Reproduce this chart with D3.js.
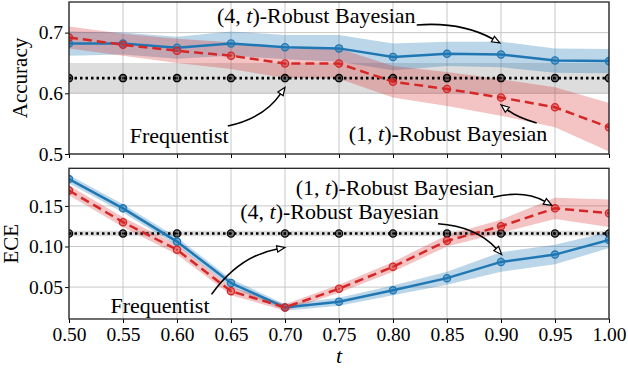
<!DOCTYPE html>
<html>
<head>
<meta charset="utf-8">
<script src="https://cdn.jsdelivr.net/npm/d3@7"></script>
<style>
  body { margin: 0; background: #fff; }
  svg text { font-family: "Liberation Serif", "DejaVu Serif", serif; fill: #000; }
</style>
</head>
<body>
<div id="chart-container"></div>
<script>
const ts = [0.50, 0.55, 0.60, 0.65, 0.70, 0.75, 0.80, 0.85, 0.90, 0.95, 1.00];

// accuracy (top panel)
const accRobust4    = [0.682, 0.682, 0.675, 0.682, 0.676, 0.674, 0.660, 0.665, 0.664, 0.654, 0.653];
const accRobust4Std = [0.020, 0.018, 0.018, 0.020, 0.020, 0.022, 0.022, 0.020, 0.021, 0.020, 0.020];
const accRobust1    = [0.692, 0.680, 0.670, 0.662, 0.649, 0.649, 0.619, 0.607, 0.593, 0.577, 0.544];
const accRobust1Std = [0.018, 0.018, 0.020, 0.022, 0.024, 0.025, 0.026, 0.028, 0.030, 0.033, 0.040];
const accFreq       = [0.625, 0.625, 0.625, 0.625, 0.625, 0.625, 0.625, 0.625, 0.625, 0.625, 0.625];
const accFreqStd    = [0.025, 0.025, 0.025, 0.025, 0.025, 0.025, 0.025, 0.025, 0.025, 0.025, 0.025];

// ECE (bottom panel)
const eceRobust4    = [0.183, 0.147, 0.106, 0.055, 0.025, 0.032, 0.046, 0.061, 0.081, 0.090, 0.108];
const eceRobust4Std = [0.005, 0.005, 0.005, 0.005, 0.004, 0.005, 0.006, 0.008, 0.012, 0.012, 0.010];
const eceRobust1    = [0.169, 0.130, 0.096, 0.045, 0.025, 0.048, 0.075, 0.107, 0.125, 0.147, 0.141];
const eceRobust1Std = [0.006, 0.006, 0.006, 0.005, 0.004, 0.005, 0.006, 0.007, 0.008, 0.013, 0.017];
const eceFreq       = [0.116, 0.116, 0.116, 0.116, 0.116, 0.116, 0.116, 0.116, 0.116, 0.116, 0.116];
const eceFreqStd    = [0.0035, 0.0035, 0.0035, 0.0035, 0.0035, 0.0035, 0.0035, 0.0035, 0.0035, 0.0035, 0.0035];

const xTicks = [0.50, 0.55, 0.60, 0.65, 0.70, 0.75, 0.80, 0.85, 0.90, 0.95, 1.00];
const accTicks = [0.5, 0.6, 0.7];
const eceTicks = [0.05, 0.10, 0.15];

const blue = "#1f77b4", red = "#d62728";

const width = 628, height = 368;
const margin = { left: 69, right: 19 };

const svg = d3.select("#chart-container").append("svg")
  .attr("width", width)
  .attr("height", height);

const x = d3.scaleLinear().domain([0.5, 1.0]).range([margin.left, width - margin.right]);

function drawPanel(cfg) {
  let y = d3.scaleLinear().domain(cfg.domain).range([cfg.bottom, cfg.top]);
  let g = svg.append("g");

  // grid
  g.append("g").selectAll("line").data(xTicks).enter().append("line")
    .attr("x1", d => x(d)).attr("x2", d => x(d))
    .attr("y1", cfg.top).attr("y2", cfg.bottom)
    .attr("stroke", "#c8c8c8").attr("stroke-width", 1);
  g.append("g").selectAll("line").data(cfg.yTicks).enter().append("line")
    .attr("x1", x.range()[0]).attr("x2", x.range()[1])
    .attr("y1", d => y(d)).attr("y2", d => y(d))
    .attr("stroke", "#c8c8c8").attr("stroke-width", 1);

  let band = (m, s) => d3.area()
    .x((d, i) => x(ts[i]))
    .y0((d, i) => y(m[i] - s[i]))
    .y1((d, i) => y(m[i] + s[i]));

  let clipId = "clip-" + cfg.name;
  svg.append("clipPath").attr("id", clipId).append("rect")
    .attr("x", x.range()[0]).attr("y", cfg.top)
    .attr("width", x.range()[1] - x.range()[0]).attr("height", cfg.bottom - cfg.top);

  let plot = g.append("g").attr("clip-path", "url(#" + clipId + ")");

  plot.append("path").datum(ts).attr("d", band(cfg.freq, cfg.freqStd))
    .attr("fill", "#808080").attr("fill-opacity", 0.27);
  plot.append("path").datum(ts).attr("d", band(cfg.r4, cfg.r4Std))
    .attr("fill", blue).attr("fill-opacity", 0.3);
  plot.append("path").datum(ts).attr("d", band(cfg.r1, cfg.r1Std))
    .attr("fill", red).attr("fill-opacity", 0.28);

  let series = [
    { v: cfg.freq, color: "#000", dash: "2.5,3", w: 2.6 },
    { v: cfg.r4, color: blue, dash: null, w: 2.5 },
    { v: cfg.r1, color: red, dash: "9,5", w: 2.5 }
  ];
  series.forEach(s => {
    let line = d3.line().x((d, i) => x(ts[i])).y(d => y(d));
    plot.append("path").datum(s.v).attr("d", line)
      .attr("fill", "none").attr("stroke", s.color)
      .attr("stroke-width", s.w).attr("stroke-dasharray", s.dash);
    plot.append("g").selectAll("circle").data(s.v).enter().append("circle")
      .attr("cx", (d, i) => x(ts[i])).attr("cy", d => y(d)).attr("r", 3.6)
      .attr("fill", s.color).attr("fill-opacity", 0.45)
      .attr("stroke", s.color).attr("stroke-width", 1.3);
    plot.append("g").selectAll("circle").data(s.v).enter().append("circle")
      .attr("cx", (d, i) => x(ts[i])).attr("cy", d => y(d)).attr("r", 0.9)
      .attr("fill", s.color);
  });

  // axes
  let yAxis = d3.axisLeft(y).tickValues(cfg.yTicks).tickSize(4).tickPadding(2)
    .tickFormat(d3.format(cfg.fmt));
  let xAxis = d3.axisBottom(x).tickValues(xTicks).tickSize(4).tickPadding(4)
    .tickFormat(cfg.showX ? d3.format(".2f") : "");

  let ya = g.append("g").attr("transform", "translate(" + x.range()[0] + ",0)").call(yAxis);
  let xa = g.append("g").attr("transform", "translate(0," + cfg.bottom + ")").call(xAxis);
  [ya, xa].forEach(a => {
    a.select(".domain").remove();
    a.selectAll("line").attr("stroke", "#000").attr("stroke-width", 1);
    a.selectAll("text").style("font-size", "19.5px").attr("fill", "#000")
      .style("font-family", "'Liberation Serif', serif");
  });

  g.append("rect")
    .attr("x", x.range()[0]).attr("y", cfg.top)
    .attr("width", x.range()[1] - x.range()[0]).attr("height", cfg.bottom - cfg.top)
    .attr("fill", "none").attr("stroke", "#222").attr("stroke-width", 1.3);

  g.append("text")
    .attr("transform", "translate(" + cfg.labelX + "," + (cfg.top + cfg.bottom) / 2 + ") rotate(-90)")
    .attr("text-anchor", "middle").attr("dy", "0.35em")
    .style("font-size", "21px").text(cfg.label);

  cfg.notes.forEach(n => annotate(n, y));
}

function annotate(n, y) {
  let t = svg.append("text")
    .attr("x", x(n.tx)).attr("y", y(n.ty))
    .attr("text-anchor", "middle").attr("dy", "0.35em")
    .style("font-size", "22px");
  if (n.k) {
    t.append("tspan").text("(" + n.k + ", ");
    t.append("tspan").style("font-style", "italic").text("t");
    t.append("tspan").text(")-Robust Bayesian");
  } else {
    t.text(n.text);
  }

  let x1 = x(n.from[0]), y1 = y(n.from[1]);
  let x2 = x(n.to[0]), y2 = y(n.to[1]);
  let dx = x2 - x1, dy = y2 - y1;
  let cx = (x1 + x2) / 2 - n.rad * dy, cy = (y1 + y2) / 2 + n.rad * dx;

  // arrowhead direction from control point to tip
  let ang = Math.atan2(y2 - cy, x2 - cx);
  let len = 8, hw = 3.2;
  let bx = x2 - len * Math.cos(ang), by = y2 - len * Math.sin(ang);

  let p = d3.path();
  p.moveTo(x1, y1);
  p.quadraticCurveTo(cx, cy, bx, by);
  svg.append("path").attr("d", p.toString())
    .attr("fill", "none").attr("stroke", "#000").attr("stroke-width", 1.6);

  let px = -Math.sin(ang), py = Math.cos(ang);
  svg.append("path")
    .attr("d", "M" + x2 + "," + y2 +
      "L" + (bx + hw * px) + "," + (by + hw * py) +
      "L" + (bx - hw * px) + "," + (by - hw * py) + "Z")
    .attr("fill", "#fff").attr("stroke", "#000").attr("stroke-width", 1.2);
}

drawPanel({
  name: "acc", top: 2, bottom: 154, domain: [0.5, 0.7504],
  yTicks: accTicks, fmt: ".1f", showX: false, label: "Accuracy", labelX: 20,
  r4: accRobust4, r4Std: accRobust4Std, r1: accRobust1, r1Std: accRobust1Std,
  freq: accFreq, freqStd: accFreqStd,
  notes: [
    { k: 4, tx: 0.729, ty: 0.729, from: [0.822, 0.7125], to: [0.899, 0.683], rad: -0.15 },
    { text: "Frequentist", tx: 0.602, ty: 0.53, from: [0.647, 0.546], to: [0.700, 0.610], rad: 0.2 },
    { k: 1, tx: 0.851, ty: 0.534, from: [0.933, 0.551], to: [0.900, 0.581], rad: -0.1 }
  ]
});

drawPanel({
  name: "ece", top: 168.3, bottom: 319, domain: [0.0107, 0.1963],
  yTicks: eceTicks, fmt: ".2f", showX: true, label: "ECE", labelX: 11,
  r4: eceRobust4, r4Std: eceRobust4Std, r1: eceRobust1, r1Std: eceRobust1Std,
  freq: eceFreq, freqStd: eceFreqStd,
  notes: [
    { k: 1, tx: 0.8019, ty: 0.173, from: [0.8926, 0.1606], to: [0.947, 0.1507], rad: -0.2 },
    { k: 4, tx: 0.7505, ty: 0.1438, from: [0.8417, 0.128], to: [0.9006, 0.0902], rad: -0.2 },
    { text: "Frequentist", tx: 0.5843, ty: 0.028, from: [0.632, 0.041], to: [0.700, 0.0988], rad: -0.2 }
  ]
});

svg.append("text")
  .attr("x", x(0.75)).attr("y", 363)
  .attr("text-anchor", "middle")
  .style("font-size", "22px").style("font-style", "italic")
  .text("t");
</script>
</body>
</html>
